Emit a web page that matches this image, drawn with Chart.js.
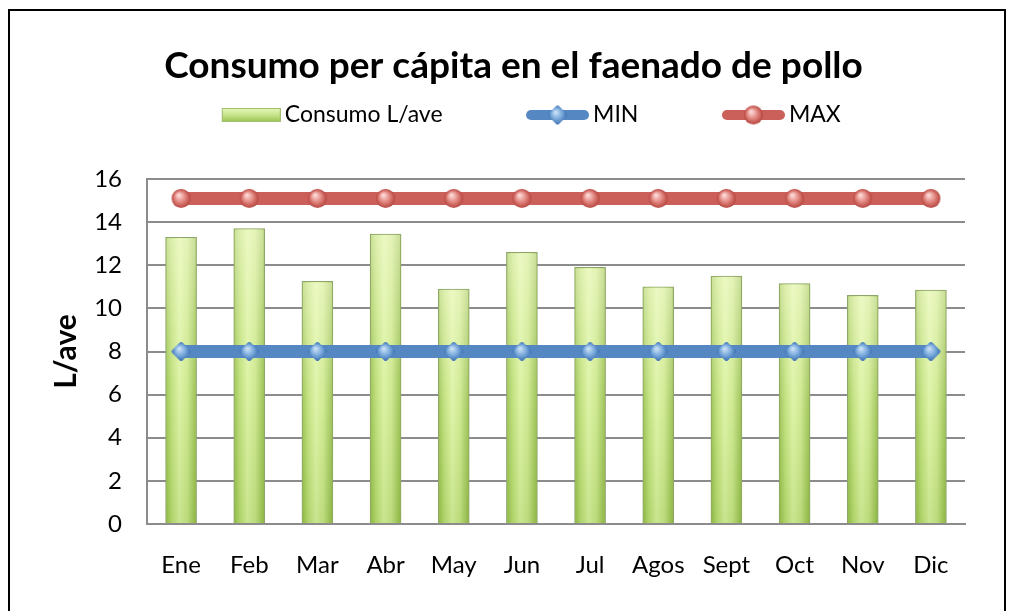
<!DOCTYPE html>
<html>
<head>
<meta charset="utf-8">
<script src="https://cdn.jsdelivr.net/npm/chart.js@4.4.1/dist/chart.umd.min.js"></script>
<style>
  html, body { margin: 0; padding: 0; background: #fff; }
  #wrap { position: relative; width: 1013px; height: 611px; overflow: hidden; }
  #frame { position: absolute; left: 8px; top: 9px; width: 998px; height: 640px; border: 2px solid #000; box-sizing: border-box; pointer-events: none; }
  canvas { position: absolute; left: 0; top: 0; }
</style>
</head>
<body>
<div id="wrap">
  <canvas id="c" width="1013" height="611"></canvas>
  <div id="frame"></div>
</div>
<script>
const categories = ['Ene', 'Feb', 'Mar', 'Abr', 'May', 'Jun', 'Jul', 'Agos', 'Sept', 'Oct', 'Nov', 'Dic'];
const consumo = [13.3, 13.7, 11.25, 13.45, 10.9, 12.6, 11.9, 11.0, 11.5, 11.15, 10.6, 10.85];
const minValues = [8, 8, 8, 8, 8, 8, 8, 8, 8, 8, 8, 8];
const maxValues = [15.1, 15.1, 15.1, 15.1, 15.1, 15.1, 15.1, 15.1, 15.1, 15.1, 15.1, 15.1];
const seriesNames = ['Consumo L/ave', 'MIN', 'MAX'];
const yTicks = [0, 2, 4, 6, 8, 10, 12, 14, 16];
const titleText = 'Consumo per cápita en el faenado de pollo';
const yTitle = 'L/ave';

const FONT = 'Lato, "Liberation Sans", sans-serif';

function makeSphere(r, light, mid, dark) {
  const s = 2 * r + 2;
  const c = document.createElement('canvas');
  c.width = s; c.height = s;
  const g = c.getContext('2d');
  const cx = s / 2, cy = s / 2;
  const grad = g.createRadialGradient(cx - r * 0.25, cy - r * 0.35, r * 0.1, cx, cy, r);
  grad.addColorStop(0, light);
  grad.addColorStop(0.55, mid);
  grad.addColorStop(1, dark);
  g.fillStyle = grad;
  g.beginPath(); g.arc(cx, cy, r, 0, Math.PI * 2); g.fill();
  return c;
}
function makeDiamond(r, light, mid, dark) {
  const s = 2 * r + 4;
  const c = document.createElement('canvas');
  c.width = s; c.height = s;
  const g = c.getContext('2d');
  const cx = s / 2, cy = s / 2;
  const grad = g.createRadialGradient(cx - r * 0.2, cy - r * 0.3, r * 0.1, cx, cy, r);
  grad.addColorStop(0, light);
  grad.addColorStop(0.55, mid);
  grad.addColorStop(1, dark);
  g.fillStyle = grad; g.strokeStyle = grad;
  g.lineJoin = 'round'; g.lineWidth = 4;
  g.beginPath();
  g.moveTo(cx, cy - r + 2); g.lineTo(cx + r - 2, cy); g.lineTo(cx, cy + r - 2); g.lineTo(cx - r + 2, cy); g.closePath();
  g.fill(); g.stroke();
  return c;
}
const redDot = makeSphere(9.5, '#fcd6d3', '#e0817b', '#b6453f');
const blueDot = makeDiamond(9.5, '#c4def5', '#75a6da', '#3c71b0');

const LEG_B = 129;          // legend box width used for layout
const LEG_IMG = LEG_B + 15; // icon image width (icon sits at its right end)
function legendLine(color, marker) {
  const c = document.createElement('canvas');
  c.width = LEG_IMG; c.height = 22;
  const g = c.getContext('2d');
  g.strokeStyle = color; g.lineWidth = 10; g.lineCap = 'round';
  g.beginPath(); g.moveTo(LEG_IMG - 58, 11); g.lineTo(LEG_IMG - 5, 11); g.stroke();
  g.drawImage(marker, LEG_IMG - 31.5 - marker.width / 2, 11 - marker.height / 2);
  return c;
}
function legendBox() {
  const c = document.createElement('canvas');
  c.width = LEG_IMG; c.height = 22;
  const g = c.getContext('2d');
  const x0 = LEG_IMG - 59, w = 59, y0 = 4, h = 14;
  const grad = g.createLinearGradient(0, y0, 0, y0 + h);
  grad.addColorStop(0, '#e6f9bd');
  grad.addColorStop(0.5, '#c6e48b');
  grad.addColorStop(1, '#98c24e');
  g.fillStyle = grad; g.fillRect(x0, y0, w, h);
  g.strokeStyle = '#a3bd74'; g.lineWidth = 1; g.strokeRect(x0 + 0.5, y0 + 0.5, w - 1, h - 1);
  return c;
}
const legendIcons = [legendBox(), legendLine('#5587c2', blueDot), legendLine('#cb5f59', redDot)];

const BAR_W = 31;
function barFill(ctx) {
  const chart = ctx.chart;
  const fallback = '#c4e282';
  if (!chart.chartArea || ctx.type !== 'data' || !chart.scales.x) return fallback;
  const x = chart.scales.x.getPixelForValue(ctx.dataIndex);
  if (!Number.isFinite(x)) return fallback;
  const g = chart.ctx.createLinearGradient(x - BAR_W / 2, 0, x + BAR_W / 2, 0);
  g.addColorStop(0, '#93bd49');
  g.addColorStop(0.2, '#bbde74');
  g.addColorStop(0.45, '#d9f29f');
  g.addColorStop(0.7, '#c8e687');
  g.addColorStop(1, '#90b946');
  return g;
}

const barShine = {
  id: 'barShine',
  afterDatasetDraw(chart, args) {
    if (args.meta.type !== 'bar') return;
    const c = chart.ctx;
    c.save();
    args.meta.data.forEach(el => {
      const p = el.getProps(['x', 'y', 'base', 'width'], true);
      if (![p.x, p.y, p.base, p.width].every(Number.isFinite) || p.base - p.y < 3) return;
      const g = c.createLinearGradient(0, p.y, 0, p.base);
      g.addColorStop(0, 'rgba(255,255,230,0.5)');
      g.addColorStop(0.5, 'rgba(255,255,230,0.12)');
      g.addColorStop(1, 'rgba(90,130,30,0.12)');
      c.fillStyle = g;
      c.fillRect(p.x - p.width / 2 + 1, p.y + 1, p.width - 2, p.base - p.y - 1);
    });
    c.restore();
  }
};

const legendGap = {
  id: 'legendGap',
  beforeLayout(chart) {
    const lg = chart.legend;
    if (lg && !lg._gapWrapped) {
      const f = lg.fit.bind(lg);
      lg.fit = function () { f(); this.height += 42.5; };
      lg._gapWrapped = true;
    }
  },
  afterLayout(chart) {
    const t = chart.titleBlock;
    if (t) { t.left += 21; t.right += 21; }
  }
};

new Chart(document.getElementById('c'), {
  type: 'bar',
  data: {
    labels: categories,
    datasets: [
      {
        type: 'line', label: seriesNames[2], data: maxValues,
        borderColor: '#cb5f59', borderWidth: 13,
        pointStyle: redDot, pointRadius: 9, order: 1
      },
      {
        type: 'line', label: seriesNames[1], data: minValues,
        borderColor: '#5587c2', borderWidth: 13,
        pointStyle: blueDot, pointRadius: 9, order: 2
      },
      {
        type: 'bar', label: seriesNames[0], data: consumo,
        backgroundColor: barFill, borderColor: '#8fa36c', borderWidth: 1,
        barThickness: BAR_W, order: 3
      }
    ]
  },
  plugins: [barShine, legendGap],
  options: {
    responsive: false,
    animation: false,
    layout: { padding: { left: 20, right: 48, top: 0, bottom: 0 } },
    plugins: {
      tooltip: { enabled: false },
      title: {
        display: true, text: titleText, color: '#000',
        font: { family: FONT, size: 37, weight: 'bold' },
        padding: { top: 43.8, bottom: 5.3 }
      },
      legend: {
        display: true, position: 'top',
        labels: {
          usePointStyle: true, pointStyleWidth: LEG_B, padding: 10,
          color: '#000', font: { family: FONT, size: 23 },
          generateLabels(chart) {
            const order = [2, 1, 0];
            return order.map((di, k) => ({
              text: chart.data.datasets[di].label,
              pointStyle: legendIcons[k],
              fillStyle: 'transparent', strokeStyle: 'transparent', lineWidth: 0,
              hidden: false, datasetIndex: di, fontColor: '#000'
            }));
          }
        }
      }
    },
    scales: {
      x: {
        grid: { display: false, drawTicks: false },
        border: { display: true, color: '#8c8c8c', width: 2 },
        ticks: { color: '#000', font: { family: FONT, size: 24 }, padding: 27 },
        afterFit(s) { s.height = 87; }
      },
      y: {
        min: 0, max: 16,
        afterBuildTicks(s) { s.ticks = yTicks.map(v => ({ value: v })); },
        grid: { color: '#8c8c8c', lineWidth: 2, drawTicks: false },
        border: { display: true, color: '#8c8c8c', width: 2 },
        ticks: { color: '#000', font: { family: FONT, size: 24 }, padding: 25 },
        title: {
          display: true, text: yTitle, color: '#000',
          font: { family: FONT, size: 30, weight: 'bold' },
          padding: { top: 28, bottom: 0 }
        },
        afterFit(s) { s.width = 127; }
      }
    }
  }
});
</script>
</body>
</html>
